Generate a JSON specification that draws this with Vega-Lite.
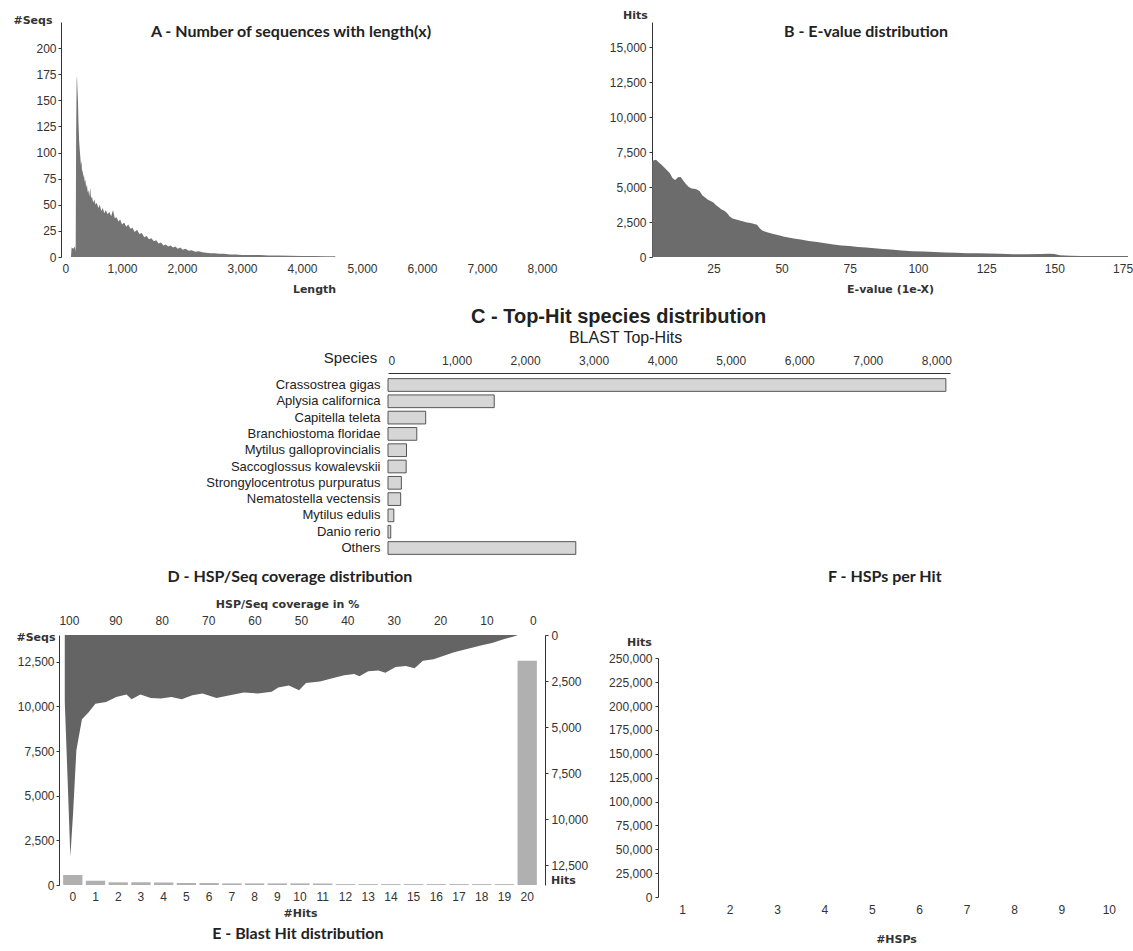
{
  "$schema": "https://vega.github.io/schema/vega-lite/v6.json",
  "background": "white",
  "padding": {"left": 12, "top": 9, "right": 0, "bottom": 0},
  "spacing": 13,
  "datasets": {
    "lengths": [
      {"length": 150, "count": 0}, {"length": 160, "count": 9}, {"length": 190, "count": 8}, {"length": 215, "count": 10}, {"length": 228, "count": 5},
      {"length": 236, "count": 120}, {"length": 244, "count": 168}, {"length": 250, "count": 174}, {"length": 258, "count": 160}, {"length": 266, "count": 150},
      {"length": 275, "count": 128}, {"length": 285, "count": 112}, {"length": 295, "count": 103}, {"length": 305, "count": 96}, {"length": 315, "count": 88},
      {"length": 325, "count": 92}, {"length": 335, "count": 80}, {"length": 345, "count": 84}, {"length": 355, "count": 76}, {"length": 365, "count": 79},
      {"length": 378, "count": 72}, {"length": 390, "count": 74}, {"length": 402, "count": 66}, {"length": 415, "count": 70}, {"length": 428, "count": 62},
      {"length": 440, "count": 64}, {"length": 455, "count": 58}, {"length": 470, "count": 66}, {"length": 485, "count": 56}, {"length": 500, "count": 58},
      {"length": 520, "count": 52}, {"length": 540, "count": 55}, {"length": 560, "count": 50}, {"length": 580, "count": 52}, {"length": 605, "count": 47},
      {"length": 630, "count": 50}, {"length": 655, "count": 44}, {"length": 680, "count": 47}, {"length": 705, "count": 42}, {"length": 730, "count": 45},
      {"length": 760, "count": 41}, {"length": 790, "count": 43}, {"length": 820, "count": 39}, {"length": 850, "count": 45}, {"length": 880, "count": 37},
      {"length": 910, "count": 38}, {"length": 940, "count": 34}, {"length": 970, "count": 36}, {"length": 1000, "count": 31}, {"length": 1035, "count": 33},
      {"length": 1070, "count": 29}, {"length": 1105, "count": 31}, {"length": 1140, "count": 27}, {"length": 1175, "count": 28}, {"length": 1210, "count": 24},
      {"length": 1250, "count": 26}, {"length": 1290, "count": 22}, {"length": 1330, "count": 23}, {"length": 1370, "count": 19}, {"length": 1410, "count": 20},
      {"length": 1450, "count": 17}, {"length": 1490, "count": 18}, {"length": 1530, "count": 15}, {"length": 1570, "count": 16}, {"length": 1610, "count": 13},
      {"length": 1650, "count": 14}, {"length": 1690, "count": 11}, {"length": 1730, "count": 12}, {"length": 1770, "count": 10}, {"length": 1810, "count": 11},
      {"length": 1850, "count": 9}, {"length": 1890, "count": 10}, {"length": 1930, "count": 8}, {"length": 1970, "count": 9}, {"length": 2010, "count": 7},
      {"length": 2060, "count": 8}, {"length": 2110, "count": 6}, {"length": 2160, "count": 6.5}, {"length": 2220, "count": 5}, {"length": 2280, "count": 5.5},
      {"length": 2340, "count": 4.5}, {"length": 2400, "count": 4}, {"length": 2470, "count": 3.5}, {"length": 2540, "count": 3.5}, {"length": 2620, "count": 3},
      {"length": 2700, "count": 3}, {"length": 2800, "count": 2.5}, {"length": 2900, "count": 2.5}, {"length": 3000, "count": 2}, {"length": 3150, "count": 2},
      {"length": 3300, "count": 1.8}, {"length": 3450, "count": 1.5}, {"length": 3600, "count": 1.5}, {"length": 3800, "count": 1.2}, {"length": 4000, "count": 1},
      {"length": 4200, "count": 1}, {"length": 4400, "count": 0.8}, {"length": 4550, "count": 0.6}, {"length": 4560, "count": 0}
    ],
    "evalues": [
      {"evalue": 2.6, "hits": 6880}, {"evalue": 4, "hits": 6950}, {"evalue": 5, "hits": 6750}, {"evalue": 6, "hits": 6600}, {"evalue": 7, "hits": 6400},
      {"evalue": 8, "hits": 6200}, {"evalue": 9, "hits": 6000}, {"evalue": 10, "hits": 5650}, {"evalue": 11, "hits": 5500}, {"evalue": 12, "hits": 5700},
      {"evalue": 13, "hits": 5720}, {"evalue": 14, "hits": 5450}, {"evalue": 15, "hits": 5200}, {"evalue": 16, "hits": 5000}, {"evalue": 17, "hits": 4900},
      {"evalue": 18, "hits": 4880}, {"evalue": 19, "hits": 4820}, {"evalue": 20, "hits": 4700}, {"evalue": 21, "hits": 4400}, {"evalue": 22, "hits": 4250},
      {"evalue": 23, "hits": 4100}, {"evalue": 24, "hits": 4000}, {"evalue": 25, "hits": 3900}, {"evalue": 26, "hits": 3700}, {"evalue": 27, "hits": 3550},
      {"evalue": 28, "hits": 3400}, {"evalue": 29, "hits": 3300}, {"evalue": 30, "hits": 3150}, {"evalue": 31, "hits": 2900}, {"evalue": 32, "hits": 2750},
      {"evalue": 33, "hits": 2700}, {"evalue": 35, "hits": 2600}, {"evalue": 37, "hits": 2480}, {"evalue": 39, "hits": 2420}, {"evalue": 41, "hits": 2300},
      {"evalue": 42, "hits": 2050}, {"evalue": 43, "hits": 1880}, {"evalue": 45, "hits": 1760}, {"evalue": 47, "hits": 1650}, {"evalue": 49, "hits": 1560},
      {"evalue": 51, "hits": 1450}, {"evalue": 53, "hits": 1380}, {"evalue": 55, "hits": 1300}, {"evalue": 57, "hits": 1260}, {"evalue": 60, "hits": 1150},
      {"evalue": 63, "hits": 1080}, {"evalue": 66, "hits": 980}, {"evalue": 69, "hits": 900}, {"evalue": 72, "hits": 820}, {"evalue": 75, "hits": 780},
      {"evalue": 78, "hits": 720}, {"evalue": 81, "hits": 680}, {"evalue": 84, "hits": 620}, {"evalue": 87, "hits": 570}, {"evalue": 90, "hits": 530},
      {"evalue": 94, "hits": 470}, {"evalue": 98, "hits": 420}, {"evalue": 102, "hits": 390}, {"evalue": 106, "hits": 350}, {"evalue": 110, "hits": 320},
      {"evalue": 114, "hits": 300}, {"evalue": 118, "hits": 270}, {"evalue": 122, "hits": 265}, {"evalue": 126, "hits": 245}, {"evalue": 130, "hits": 230},
      {"evalue": 135, "hits": 200}, {"evalue": 140, "hits": 195}, {"evalue": 145, "hits": 210}, {"evalue": 148, "hits": 230}, {"evalue": 150, "hits": 210},
      {"evalue": 152, "hits": 120}, {"evalue": 156, "hits": 90}, {"evalue": 160, "hits": 75}, {"evalue": 165, "hits": 70}, {"evalue": 170, "hits": 72},
      {"evalue": 175, "hits": 70}, {"evalue": 177, "hits": 68}
    ],
    "species": [
      {"species": "Crassostrea gigas", "hits": 8140},
      {"species": "Aplysia californica", "hits": 1550},
      {"species": "Capitella teleta", "hits": 550},
      {"species": "Branchiostoma floridae", "hits": 420},
      {"species": "Mytilus galloprovincialis", "hits": 270},
      {"species": "Saccoglossus kowalevskii", "hits": 265},
      {"species": "Strongylocentrotus purpuratus", "hits": 195},
      {"species": "Nematostella vectensis", "hits": 185},
      {"species": "Mytilus edulis", "hits": 85},
      {"species": "Danio rerio", "hits": 40},
      {"species": "Others", "hits": 2740}
    ],
    "coverage": [
      {"cov": 100.9, "hits": 3640}, {"cov": 100.2, "hits": 8470}, {"cov": 99.7, "hits": 12030}, {"cov": 99.1, "hits": 9610}, {"cov": 98.4, "hits": 6250},
      {"cov": 97.2, "hits": 4570}, {"cov": 95.8, "hits": 4200}, {"cov": 94.3, "hits": 3730}, {"cov": 92.0, "hits": 3640}, {"cov": 89.8, "hits": 3360},
      {"cov": 87.6, "hits": 3230}, {"cov": 86.5, "hits": 3490}, {"cov": 84.6, "hits": 3230}, {"cov": 82.4, "hits": 3420}, {"cov": 80.2, "hits": 3450},
      {"cov": 77.9, "hits": 3360}, {"cov": 75.7, "hits": 3490}, {"cov": 73.4, "hits": 3270}, {"cov": 71.2, "hits": 3170}, {"cov": 68.2, "hits": 3420},
      {"cov": 65.3, "hits": 3270}, {"cov": 62.3, "hits": 3120}, {"cov": 59.3, "hits": 3170}, {"cov": 56.3, "hits": 3080}, {"cov": 54.9, "hits": 2850},
      {"cov": 52.6, "hits": 2740}, {"cov": 50.4, "hits": 2990}, {"cov": 48.9, "hits": 2610}, {"cov": 45.9, "hits": 2520}, {"cov": 43.0, "hits": 2330},
      {"cov": 40.7, "hits": 2180}, {"cov": 38.5, "hits": 2110}, {"cov": 37.4, "hits": 2240}, {"cov": 35.5, "hits": 1960}, {"cov": 33.3, "hits": 1920},
      {"cov": 31.8, "hits": 2050}, {"cov": 29.6, "hits": 1730}, {"cov": 27.4, "hits": 1680}, {"cov": 25.5, "hits": 1810}, {"cov": 23.7, "hits": 1400},
      {"cov": 21.4, "hits": 1310}, {"cov": 19.2, "hits": 1120}, {"cov": 17.0, "hits": 930}, {"cov": 14.0, "hits": 750}, {"cov": 11.0, "hits": 560},
      {"cov": 8.8, "hits": 430}, {"cov": 6.5, "hits": 240}, {"cov": 4.3, "hits": 90}, {"cov": 3.2, "hits": 0}
    ],
    "blasthits": [
      {"nhits": 0, "seqs": 560}, {"nhits": 1, "seqs": 240}, {"nhits": 2, "seqs": 150}, {"nhits": 3, "seqs": 150}, {"nhits": 4, "seqs": 145},
      {"nhits": 5, "seqs": 110}, {"nhits": 6, "seqs": 110}, {"nhits": 7, "seqs": 90}, {"nhits": 8, "seqs": 90}, {"nhits": 9, "seqs": 90},
      {"nhits": 10, "seqs": 90}, {"nhits": 11, "seqs": 90}, {"nhits": 12, "seqs": 50}, {"nhits": 13, "seqs": 50}, {"nhits": 14, "seqs": 50},
      {"nhits": 15, "seqs": 50}, {"nhits": 16, "seqs": 50}, {"nhits": 17, "seqs": 50}, {"nhits": 18, "seqs": 50}, {"nhits": 19, "seqs": 50},
      {"nhits": 20, "seqs": 12560}
    ],
    "hsps": [
      {"nhsps": 1, "hits": 0}, {"nhsps": 2, "hits": 0}, {"nhsps": 3, "hits": 0}, {"nhsps": 4, "hits": 0}, {"nhsps": 5, "hits": 0},
      {"nhsps": 6, "hits": 0}, {"nhsps": 7, "hits": 0}, {"nhsps": 8, "hits": 0}, {"nhsps": 9, "hits": 0}, {"nhsps": 10, "hits": 0}
    ]
  },
  "vconcat": [
    {
      "hconcat": [
        {
          "width": 504, "height": 235,
          "title": {"text": "A - Number of sequences with length(x)", "anchor": "middle", "frame": "group", "offset": -26, "dx": -23},
          "data": {"name": "lengths"},
          "mark": {"type": "area", "color": "#747474"},
          "encoding": {
            "x": {"field": "length", "type": "quantitative", "scale": {"domain": [0, 8400], "nice": false},
                  "axis": {"values": [0, 1000, 2000, 3000, 4000, 5000, 6000, 7000, 8000], "format": ",d", "title": "Length", "domain": false, "ticks": false, "labelPadding": 6, "titlePadding": 9}},
            "y": {"field": "count", "type": "quantitative", "scale": {"domain": [0, 225], "nice": false},
                  "axis": {"values": [0, 25, 50, 75, 100, 125, 150, 175, 200], "title": "#Seqs", "titleAngle": 0, "titleAlign": "right", "titleBaseline": "middle", "titleX": -9, "titleY": -2, "offset": 1, "tickSize": 3, "labelPadding": 2}}
          }
        },
        {
          "width": 476, "height": 235,
          "title": {"text": "B - E-value distribution", "anchor": "middle", "frame": "group", "offset": -31, "dx": -24},
          "data": {"name": "evalues"},
          "mark": {"type": "area", "color": "#6c6c6c"},
          "encoding": {
            "x": {"field": "evalue", "type": "quantitative", "scale": {"domain": [2.5, 177], "nice": false, "zero": false},
                  "axis": {"values": [25, 50, 75, 100, 125, 150, 175], "title": "E-value (1e-X)", "domain": false, "ticks": false, "labelPadding": 6, "titlePadding": 9}},
            "y": {"field": "hits", "type": "quantitative", "scale": {"domain": [0, 16800], "nice": false},
                  "axis": {"values": [0, 2500, 5000, 7500, 10000, 12500, 15000], "format": ",d", "title": "Hits", "titleAngle": 0, "titleAlign": "center", "titleBaseline": "middle", "titleX": -17, "titleY": -7, "offset": 0, "tickSize": 3, "labelPadding": 3}}
          }
        }
      ],
      "spacing": 86,
      "bounds": "flush"
    },
    {
      "hconcat": [
        {"width": 316, "height": 10, "data": {"values": []}, "mark": "point"},
        {
          "width": 562, "height": 179,
          "title": {"text": "C - Top-Hit species distribution", "anchor": "middle", "frame": "bounds", "font": "Liberation Sans", "fontSize": 20, "fontWeight": "bold", "color": "#222", "offset": 2, "dx": 40},
          "data": {"name": "species"},
          "mark": {"type": "bar", "fill": "#d6d6d6", "stroke": "#555555", "strokeWidth": 1},
          "encoding": {
            "y": {"field": "species", "type": "nominal", "sort": null, "scale": {"paddingInner": 0.22, "paddingOuter": 0.1},
                  "axis": {"title": "Species", "domain": false, "ticks": false, "labelPadding": 8, "labelFontSize": 13, "labelColor": "#222", "titleAngle": 0, "titleX": -38, "titleY": -20, "titleAlign": "center", "titleBaseline": "middle", "titleFont": "Liberation Sans", "titleFontSize": 15, "titleFontWeight": "normal", "titleColor": "#222"}},
            "x": {"field": "hits", "type": "quantitative", "scale": {"domain": [0, 8200], "nice": false},
                  "axis": {"orient": "top", "values": [0, 1000, 2000, 3000, 4000, 5000, 6000, 7000, 8000], "format": ",d", "title": "BLAST Top-Hits", "titleFont": "Liberation Sans", "titleFontSize": 16, "titleFontWeight": "normal", "titleColor": "#222", "titleX": 237, "titleY": -36, "titleBaseline": "middle", "titleAlign": "center", "ticks": false, "labelPadding": 6, "offset": 4, "domainColor": "#333"}}
          }
        }
      ],
      "spacing": 10,
      "bounds": "flush"
    },
    {
      "hconcat": [
        {
          "title": {"text": "D - HSP/Seq coverage distribution", "anchor": "middle", "frame": "bounds", "offset": 13, "dx": -12},
          "vconcat": [
            {
              "width": 476, "height": 250,
              "title": {"text": "E - Blast Hit distribution", "orient": "bottom", "anchor": "middle", "frame": "bounds", "offset": 8, "dx": -4},
              "layer": [
                {
                  "data": {"name": "coverage"},
                  "mark": {"type": "area", "color": "#646464"},
                  "encoding": {
                    "x": {"field": "cov", "type": "quantitative", "scale": {"domain": [101.5, -1.1], "nice": false, "zero": false},
                          "axis": {"orient": "top", "values": [100, 90, 80, 70, 60, 50, 40, 30, 20, 10, 0], "title": "HSP/Seq coverage in %", "titleX": 225, "domain": false, "ticks": false, "tickSize": 0, "labelPadding": 8, "titlePadding": 5}},
                    "y": {"field": "hits", "type": "quantitative", "scale": {"domain": [0, 13560], "reverse": true, "nice": false},
                          "axis": {"orient": "right", "values": [0, 2500, 5000, 7500, 10000, 12500], "format": ",d", "title": "Hits", "titleAngle": 0, "titleAlign": "center", "titleBaseline": "middle", "titleX": 18, "titleY": 245, "offset": 7, "tickSize": 3, "labelPadding": 3}}
                  }
                },
                {
                  "data": {"name": "blasthits"},
                  "mark": {"type": "bar", "color": "#b0b0b0"},
                  "encoding": {
                    "x": {"field": "nhits", "type": "ordinal", "scale": {"paddingInner": 0.15, "paddingOuter": 0.05},
                          "axis": {"orient": "bottom", "labelAngle": 0, "title": "#Hits", "domain": false, "ticks": false, "labelPadding": 6, "titlePadding": 5}},
                    "y": {"field": "seqs", "type": "quantitative", "scale": {"domain": [0, 14000], "nice": false},
                          "axis": {"orient": "left", "values": [0, 2500, 5000, 7500, 10000, 12500], "format": ",d", "title": "#Seqs", "titleAngle": 0, "titleAlign": "right", "titleBaseline": "middle", "titleX": -4, "titleY": 2, "offset": 3, "tickSize": 3, "labelPadding": 2}}
                  }
                }
              ],
              "resolve": {"scale": {"x": "independent", "y": "independent"}, "axis": {"x": "independent", "y": "independent"}}
            }
          ]
        },
        {
          "title": {"text": "F - HSPs per Hit", "anchor": "middle", "frame": "bounds", "offset": 50, "dx": 14},
          "spacing": 0,
          "vconcat": [
            {"width": 474, "height": 1, "data": {"values": []}, "mark": "point"},
            {
              "width": 474, "height": 239,
              "data": {"name": "hsps"},
              "mark": {"type": "bar", "color": "#b0b0b0"},
              "encoding": {
                "x": {"field": "nhsps", "type": "ordinal", "axis": {"labelAngle": 0, "title": "#HSPs", "domain": false, "ticks": false, "labelPadding": 7, "titlePadding": 18}},
                "y": {"field": "hits", "type": "quantitative", "scale": {"domain": [0, 250300], "nice": false},
                      "axis": {"values": [0, 25000, 50000, 75000, 100000, 125000, 150000, 175000, 200000, 225000, 250000], "format": ",d", "title": "Hits", "titleAngle": 0, "titleAlign": "center", "titleBaseline": "middle", "titleX": -19, "titleY": -16, "offset": 1, "tickSize": 3, "labelPadding": 3}}
              }
            }
          ]
        }
      ],
      "spacing": 20
    }
  ],
  "config": {
    "view": {"stroke": null},
    "font": "Liberation Sans",
    "axis": {"grid": false, "labelFont": "Liberation Sans", "labelFontSize": 12, "labelColor": "#333", "domainColor": "#333", "tickColor": "#333", "titleFont": "DejaVu Sans", "titleFontSize": 11, "titleFontWeight": "bold", "titleColor": "#333"},
    "title": {"font": "Lato", "fontSize": 16, "fontWeight": "bold", "color": "#222"}
  }
}
